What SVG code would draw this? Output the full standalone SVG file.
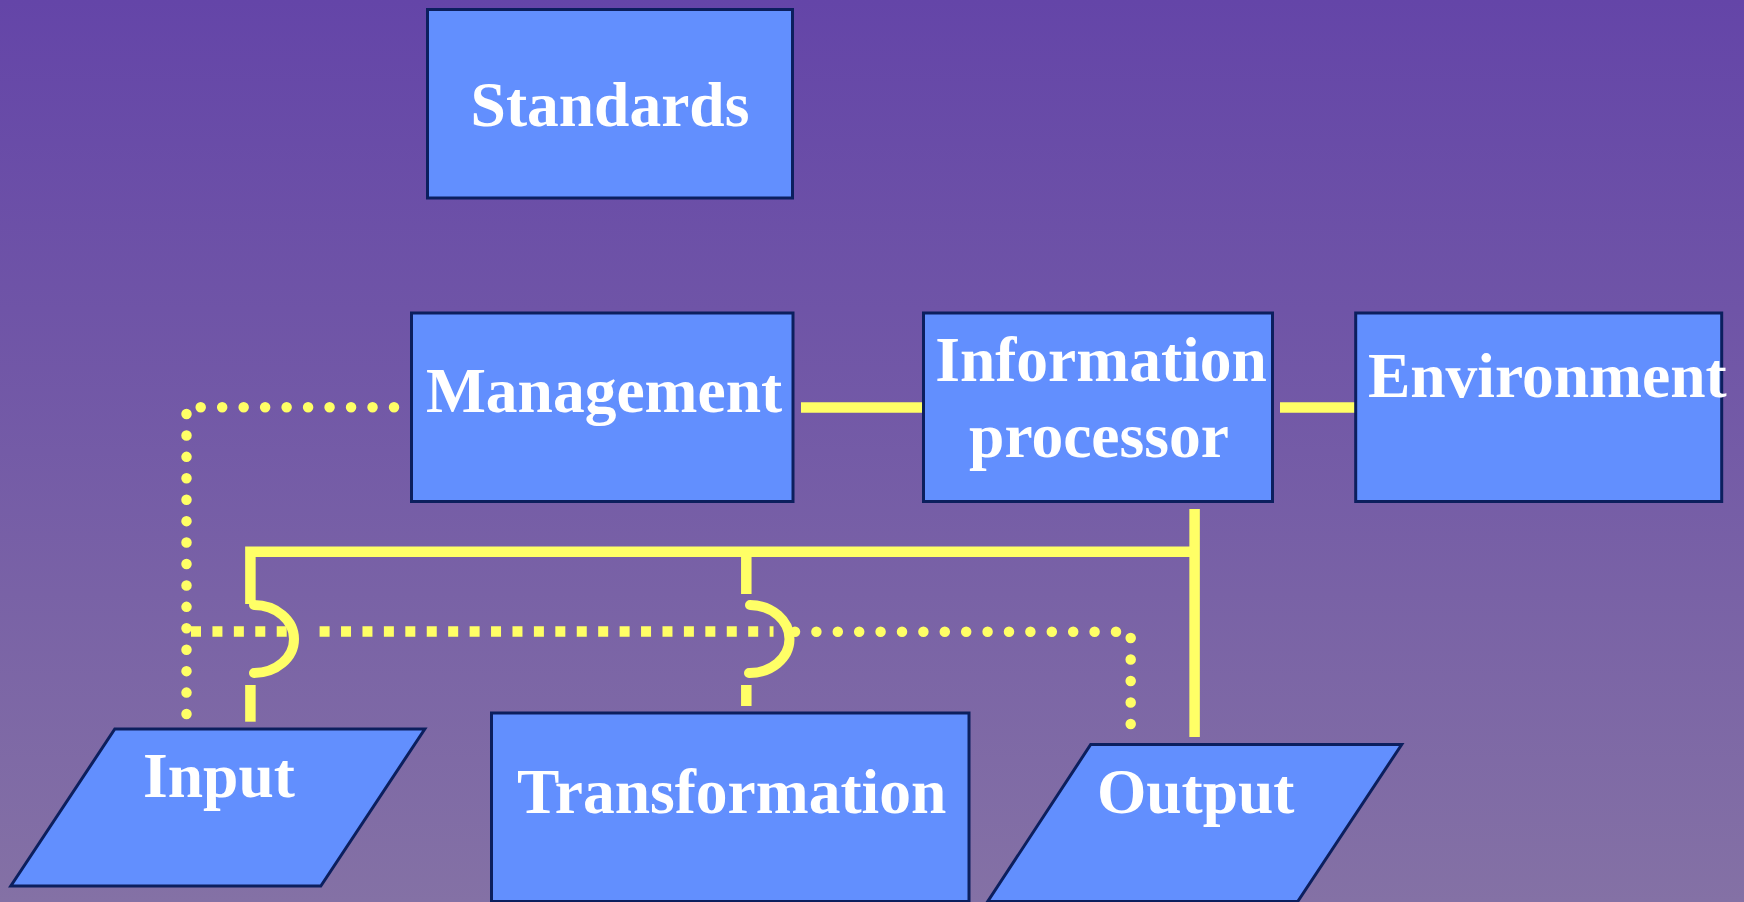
<svg xmlns="http://www.w3.org/2000/svg" width="1744" height="902" viewBox="0 0 1744 902">
  <defs>
    <linearGradient id="bg" x1="0" y1="0" x2="0" y2="1">
      <stop offset="0" stop-color="#6445A8"/>
      <stop offset="1" stop-color="#8471A5"/>
    </linearGradient>
    <style>
      .box { fill: #628FFE; stroke: #0C1F5E; stroke-width: 3; }
      .lbl { font-family: "Liberation Serif", "Times New Roman", serif; font-weight: bold; font-size: 63.5px; fill: #FFFFFF; text-anchor: middle; }
      .solid { fill: none; stroke: #FFFF66; stroke-width: 10.5; stroke-linecap: butt; stroke-linejoin: miter; }
      .arc { fill: none; stroke: #FFFF66; stroke-width: 10; stroke-linecap: round; }
      .dots { fill: none; stroke: #FFFF66; stroke-width: 10.5; stroke-linecap: round; }
      .squares { fill: none; stroke: #FFFF66; stroke-width: 10.5; stroke-linecap: butt; stroke-dasharray: 10 11.43; }
    </style>
  </defs>
  <rect x="0" y="0" width="1744" height="902" fill="url(#bg)"/>

  <g id="connectors">
    <!-- Management to Information processor -->
    <line class="solid" x1="801" y1="407.5" x2="932" y2="407.5"/>
    <!-- Information processor to Environment -->
    <line class="solid" x1="1280" y1="407.5" x2="1355" y2="407.5"/>
    <!-- Information processor down to Output -->
    <line class="solid" x1="1194.6" y1="509" x2="1194.6" y2="737"/>
    <!-- bar to Input and Transformation -->
    <path class="solid" d="M 250.4 604 V 551.7 H 1195"/>
    <line class="solid" x1="746.3" y1="551.7" x2="746.3" y2="594"/>
    <!-- jump arcs -->
    <path class="arc" d="M 254 605 A 40 34 0 0 1 254 673"/>
    <path class="arc" d="M 750 605 A 40 34 0 0 1 749 673"/>
    <!-- lower stubs -->
    <line class="solid" x1="250.4" y1="685" x2="250.4" y2="721.7"/>
    <line class="solid" x1="746.3" y1="685" x2="746.3" y2="706"/>
    <!-- dotted Management to Input -->
    <line class="dots" x1="200.7" y1="407.3" x2="395" y2="407.3" stroke-dasharray="0 21.48"/>
    <line class="dots" x1="186.5" y1="414" x2="186.5" y2="715" stroke-dasharray="0 21.43"/>
    <!-- square-dashed horizontal -->
    <line class="squares" x1="191" y1="631.5" x2="287" y2="631.5"/>
    <line class="squares" x1="319.6" y1="631.5" x2="773.5" y2="631.5"/>
    <!-- round-dotted continuation to Output -->
    <line class="dots" x1="795" y1="631.7" x2="1117" y2="631.7" stroke-dasharray="0 21.4"/>
    <line class="dots" x1="1130.7" y1="638" x2="1130.7" y2="725" stroke-dasharray="0 21.5"/>
  </g>

  <g id="standards">
    <rect class="box" x="427.5" y="9.5" width="365" height="188.5"/>
    <text class="lbl" x="610" y="126">Standards</text>
  </g>
  <g id="management">
    <rect class="box" x="411.5" y="313" width="381.5" height="188.5"/>
    <text class="lbl" x="604" y="411.7">Management</text>
  </g>
  <g id="information-processor">
    <rect class="box" x="923.5" y="313" width="349" height="188.5"/>
    <text class="lbl" x="1101" y="381">Information</text>
    <text class="lbl" x="1099" y="457">processor</text>
  </g>
  <g id="environment">
    <rect class="box" x="1355.7" y="313" width="366" height="188.5"/>
    <text class="lbl" x="1547.3" y="397.3">Environment</text>
  </g>
  <g id="input">
    <polygon class="box" points="114.8,729 424.8,729 320.8,886 10.8,886"/>
    <text class="lbl" x="219" y="797.3">Input</text>
  </g>
  <g id="transformation">
    <rect class="box" x="491.5" y="713" width="477.5" height="188.5"/>
    <text class="lbl" x="731.7" y="813.3">Transformation</text>
  </g>
  <g id="output">
    <polygon class="box" points="1090.7,744.5 1401.7,744.5 1297.7,901.5 987.7,901.5"/>
    <text class="lbl" x="1195.7" y="813.3">Output</text>
  </g>
</svg>
